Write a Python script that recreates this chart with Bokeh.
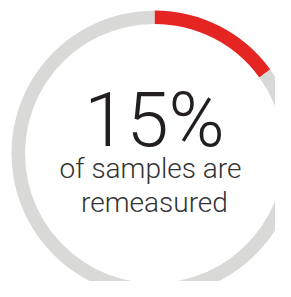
import math
from bokeh.plotting import figure
from bokeh.embed import file_html
from bokeh.resources import INLINE
from bokeh.core.properties import value

share = [15, 85]          # percent: remeasured, rest
colors = ["#E52521", "#D9D9D7"]
big_label = "15%"
lines = ["of samples are", "remeasured"]

p = figure(width=275, height=281, x_range=(-154, 121), y_range=(-128, 153),
           output_backend="svg", toolbar_location=None, min_border=0)
p.axis.visible = False
p.grid.visible = False
p.outline_line_color = None
p.background_fill_color = "white"

start = math.pi / 2
starts, ends = [], []
for s in share:
    end = start - s / 100 * 2 * math.pi
    starts.append(start)
    ends.append(end)
    start = end

p.annular_wedge(x=0, y=0, inner_radius=129.5, outer_radius=143,
                start_angle=ends, end_angle=starts, direction="anticlock",
                fill_color=colors, line_color=None)

p.text(x=[0], y=[34], text=[big_label], text_font=value("Roboto Light"),
       text_font_size="76px", text_align="center", text_baseline="alphabetic",
       text_color="#231F20")
p.text(x=[-4, 0], y=[-15, -49], text=lines, text_font=value("Roboto Light"),
       text_font_size="28px", text_align="center", text_baseline="alphabetic",
       text_color="#333333")

open("out.html", "w").write(file_html(p, INLINE))
